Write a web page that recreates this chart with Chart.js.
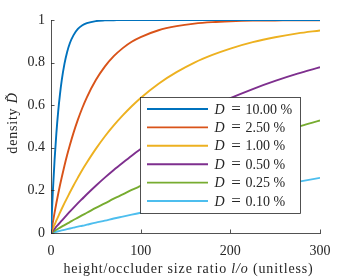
<!DOCTYPE html>
<html><head><meta charset="utf-8">
<script src="https://cdn.jsdelivr.net/npm/chart.js@4.4.0/dist/chart.umd.min.js"></script>
<style>html,body{margin:0;padding:0;background:#fff}#wrap{width:355px;height:278px}</style>
</head><body><div id="wrap"><canvas id="c" width="355" height="278"></canvas></div>
<script>
const xValues = [0,2,4,6,8,10,12,15,18,21,25,30,35,40,50,60,70,80,90,100,120,140,160,180,200,225,250,275,300];
const d1000 = [0,0.190,0.344,0.469,0.570,0.651,0.718,0.794,0.850,0.891,0.928,0.958,0.975,0.985,0.995,0.998,0.999,1,1,1,1,1,1,1,1,1,1,1,1];
const d0250 = [0,0.049,0.096,0.141,0.183,0.224,0.262,0.316,0.366,0.412,0.469,0.532,0.588,0.637,0.718,0.781,0.830,0.868,0.898,0.920,0.952,0.971,0.983,0.990,0.994,0.997,0.998,0.999,0.999];
const d0100 = [0,0.020,0.039,0.059,0.077,0.096,0.114,0.140,0.165,0.190,0.222,0.260,0.297,0.331,0.395,0.453,0.505,0.552,0.595,0.634,0.701,0.755,0.800,0.836,0.866,0.896,0.919,0.937,0.951];
const d0050 = [0,0.010,0.020,0.030,0.039,0.049,0.058,0.072,0.086,0.100,0.118,0.140,0.161,0.182,0.222,0.260,0.296,0.330,0.363,0.394,0.452,0.504,0.552,0.594,0.633,0.676,0.714,0.748,0.778];
const d0025 = [0,0.005,0.010,0.015,0.020,0.025,0.030,0.037,0.044,0.051,0.061,0.072,0.084,0.095,0.118,0.139,0.161,0.181,0.202,0.221,0.259,0.296,0.330,0.363,0.394,0.431,0.465,0.498,0.528];
const d0010 = [0,0.002,0.004,0.006,0.008,0.010,0.012,0.015,0.018,0.021,0.025,0.030,0.034,0.039,0.049,0.058,0.068,0.077,0.086,0.095,0.113,0.131,0.148,0.165,0.181,0.202,0.221,0.240,0.259];
const seriesLabels = ["10.00","2.50","1.00","0.50","0.25","0.10"];
const seriesData = [d1000,d0250,d0100,d0050,d0025,d0010];
const colors = ["#0072BD","#D95319","#EDB120","#7E2F8E","#77AC30","#4DBEEE"];
const xTicks = [0,100,200,300];
const yTicks = [0,0.2,0.4,0.6,0.8,1];

const SERIF = '"Liberation Serif", "DejaVu Serif", serif';
const AX = '#262626';

const datasets = seriesData.map((arr,i)=>({
  label: 'D = ' + seriesLabels[i] + ' %',
  data: xValues.map((x,j)=>({x:x,y:arr[j]})),
  borderColor: colors[i], backgroundColor: colors[i],
  borderWidth: 1.9, pointRadius: 0, fill:false,
  cubicInterpolationMode: 'monotone'
}));

function drawParts(ctx, parts, x0, y, spacing){
  ctx.letterSpacing = spacing + 'px';
  parts.forEach(p=>{ctx.font=p[1]+' '+SERIF; ctx.textAlign='left'; ctx.fillText(p[0],x0,y); x0+=ctx.measureText(p[0]).width;});
  ctx.letterSpacing = '0px';
}
function widthParts(ctx, parts, spacing){
  ctx.letterSpacing = spacing + 'px';
  let t=0; parts.forEach(p=>{ctx.font=p[1]+' '+SERIF; t+=ctx.measureText(p[0]).width;});
  ctx.letterSpacing = '0px';
  return t;
}

const decor = {
  id:'decor',
  afterDraw(chart){
    const ctx = chart.ctx, ca = chart.chartArea;
    const xs = chart.scales.x, ys = chart.scales.y;
    ctx.save();
    ctx.strokeStyle = AX; ctx.lineWidth = 0.8;
    ctx.beginPath();
    yTicks.forEach(v=>{const y=Math.round(ys.getPixelForValue(v))+0.5; ctx.moveTo(ca.left,y); ctx.lineTo(ca.left+3.5,y);});
    xTicks.forEach(v=>{const x=Math.round(xs.getPixelForValue(v))+0.5; ctx.moveTo(x,ca.bottom); ctx.lineTo(x,ca.bottom-3.5);});
    ctx.stroke();
    ctx.fillStyle = AX; ctx.textBaseline='alphabetic';
    const parts = [["height/occluder size ratio ",'14px'],["l/o",'italic 14px'],[" (unitless)",'14px']];
    const sp = 0.85;
    let total = widthParts(ctx, parts, sp);
    drawParts(ctx, parts, (ca.left+ca.right)/2 - total/2 + 3, 273, sp);
    ctx.save();
    ctx.translate(17,123); ctx.rotate(-Math.PI/2);
    const yp = [["density ",'14px'],["D\u0303",'italic 14px']];
    total = widthParts(ctx, yp, 0.8);
    drawParts(ctx, yp, -total/2, 0, 0.8);
    ctx.restore();
    // legend box
    const L=140.5,T=97.5,R=300.5,B=213.5;
    ctx.fillStyle='#fff'; ctx.fillRect(L,T,R-L,B-T);
    ctx.strokeStyle=AX; ctx.lineWidth=0.8; ctx.strokeRect(L,T,R-L,B-T);
    const rowH = 18.4, row0 = 109;
    chart.data.datasets.forEach((ds,i)=>{
      const y = row0 + i*rowH;
      ctx.strokeStyle = ds.borderColor; ctx.lineWidth=1.9;
      ctx.beginPath(); ctx.moveTo(147,y); ctx.lineTo(208,y); ctx.stroke();
      ctx.fillStyle=AX; ctx.textBaseline='alphabetic'; ctx.textAlign='left';
      const by = y + 4.5;
      ctx.font='italic 14px '+SERIF; ctx.fillText('D',214.5,by);
      ctx.font='17px '+SERIF; ctx.textAlign='center'; ctx.fillText('=',236,by+0.5);
      ctx.textAlign='left'; ctx.font='14px '+SERIF;
      ctx.fillText(seriesLabels[i],245.5,by);
      const nx = 245.5 + ctx.measureText(seriesLabels[i]).width + 3.5;
      ctx.fillText('%',nx,by);
    });
    ctx.restore();
  }
};

new Chart(document.getElementById('c'),{
  type:'line',
  data:{datasets},
  options:{
    responsive:false, animation:false, devicePixelRatio:1,
    layout:{padding:{left:0,right:35,top:20,bottom:0}},
    plugins:{legend:{display:false},tooltip:{enabled:false}},
    scales:{
      x:{type:'linear',min:0,max:300,
        afterBuildTicks(s){s.ticks=xTicks.map(v=>({value:v}));},
        afterFit(s){s.height=45;},
        grid:{display:false,drawTicks:false},
        border:{display:true,color:AX,width:0.8},
        ticks:{color:AX,padding:10,maxRotation:0,font:{family:SERIF,size:14},callback:v=>String(v)}},
      y:{type:'linear',min:0,max:1,
        afterBuildTicks(s){s.ticks=yTicks.map(v=>({value:v}));},
        afterFit(s){s.width=51;},
        grid:{display:false,drawTicks:false},
        border:{display:true,color:AX,width:0.8},
        ticks:{color:AX,padding:6,font:{family:SERIF,size:14},callback:v=>(v===0?'0':v===1?'1':v.toFixed(1))}}
    }
  },
  plugins:[decor]
});
</script></body></html>
